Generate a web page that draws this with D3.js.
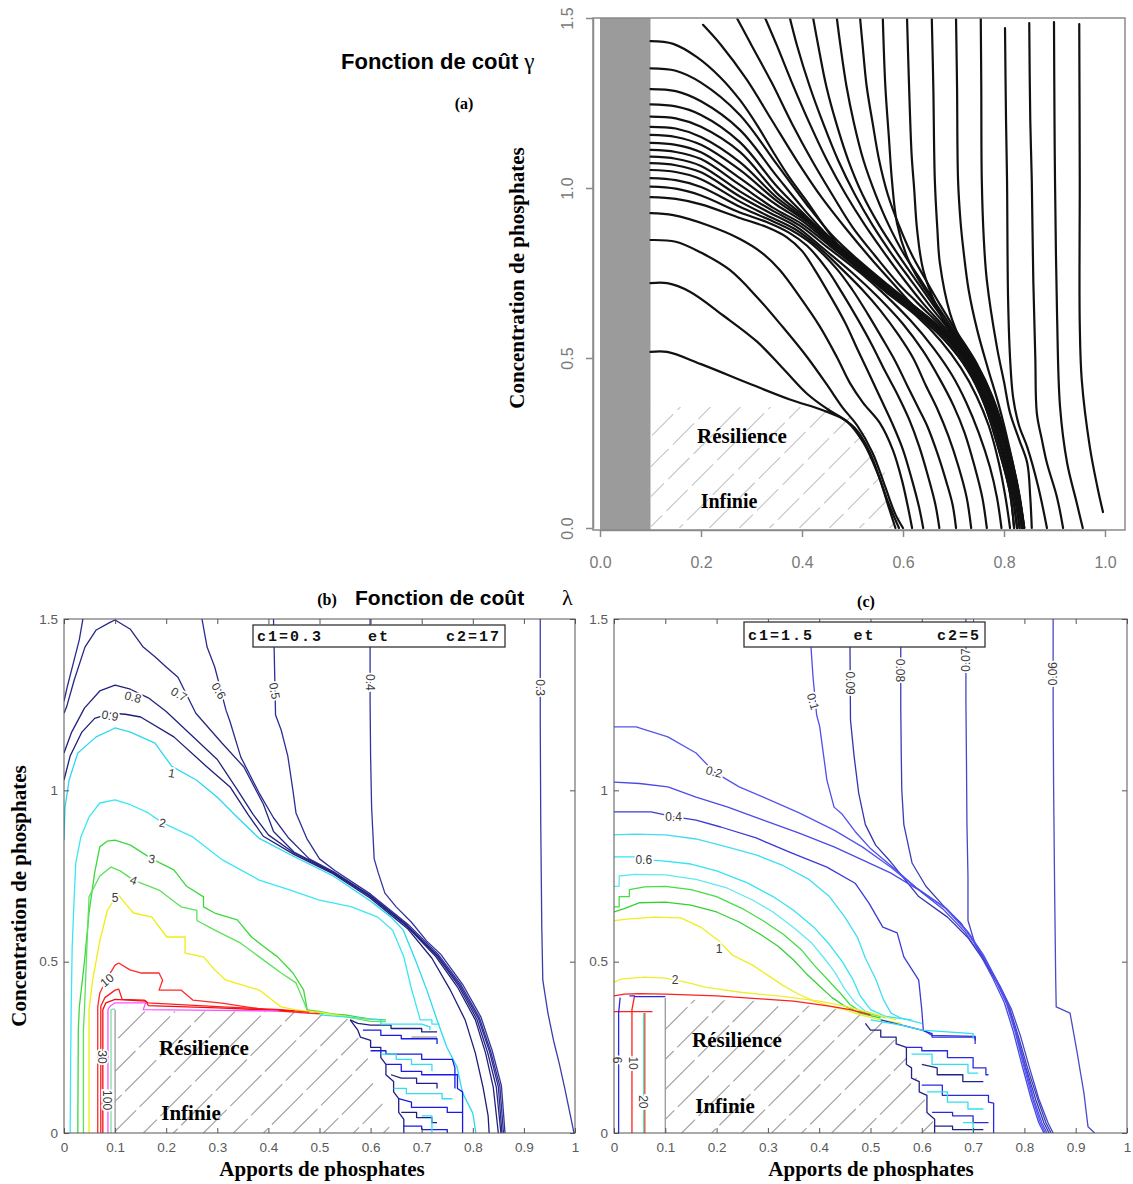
<!DOCTYPE html>
<html><head><meta charset="utf-8">
<script src="https://cdn.jsdelivr.net/npm/d3@7"></script>
<style>body{margin:0;background:#fff}svg{display:block}</style>
</head><body>
<svg id="c" width="1133" height="1184"></svg>
<script>
// ================= DATA =================
// Panel (a): trajectories (x = apports, y = concentration)
const tailA = [[0.62,0.655],[0.69,0.566],[0.736,0.477],[0.769,0.38],[0.8,0.245],[0.823,0.11],[0.836,0]];
const tailB = [[0.62,0.65],[0.688,0.561],[0.734,0.473],[0.766,0.376],[0.796,0.241],[0.819,0.11],[0.831,0]];
const tailC = [[0.62,0.645],[0.686,0.557],[0.731,0.469],[0.763,0.373],[0.793,0.238],[0.815,0.11],[0.826,0]];
const tailD = [[0.618,0.64],[0.683,0.552],[0.728,0.465],[0.76,0.369],[0.789,0.235],[0.811,0.11],[0.82,0]];

const aLeftCurves = [
 [[0.1,1.432],[0.145,1.424],[0.192,1.385],[0.238,1.326],[0.277,1.259],[0.311,1.185],[0.343,1.106],[0.376,1.029],[0.41,0.96],[0.45,0.875],[0.49,0.8],[0.55,0.728],...tailA],
 [[0.1,1.352],[0.15,1.345],[0.2,1.31],[0.277,1.215],[0.35,1.07],[0.41,0.95],[0.46,0.86],[0.51,0.79],[0.57,0.715],...tailA],
 [[0.1,1.291],[0.15,1.285],[0.2,1.255],[0.277,1.171],[0.35,1.035],[0.405,0.935],[0.455,0.855],[0.51,0.786],[0.57,0.71],...tailB],
 [[0.1,1.246],[0.15,1.24],[0.2,1.215],[0.277,1.135],[0.35,1.005],[0.405,0.922],[0.455,0.851],[0.51,0.782],[0.57,0.706],...tailB],
 [[0.1,1.21],[0.15,1.205],[0.2,1.18],[0.277,1.106],[0.35,0.985],[0.41,0.91],[0.455,0.848],[0.51,0.778],[0.57,0.702],...tailC],
 [[0.1,1.18],[0.15,1.175],[0.2,1.15],[0.277,1.076],[0.35,0.972],[0.41,0.905],[0.455,0.844],[0.51,0.774],[0.57,0.698],...tailC],
 [[0.1,1.156],[0.15,1.15],[0.2,1.127],[0.277,1.053],[0.35,0.962],[0.41,0.9],[0.455,0.84],[0.51,0.77],[0.57,0.694],...tailD],
 [[0.1,1.133],[0.15,1.127],[0.2,1.105],[0.277,1.029],[0.35,0.95],[0.405,0.898],[0.455,0.836],[0.51,0.766],[0.57,0.69],...tailD],
 [[0.1,1.112],[0.15,1.106],[0.2,1.085],[0.277,1.009],[0.345,0.94],[0.4,0.894],[0.455,0.83],[0.52,0.752],[0.57,0.69],[0.625,0.626],[0.675,0.55],[0.715,0.47],[0.745,0.39],[0.77,0.3],[0.79,0.19],[0.803,0.09],[0.812,0]],
 [[0.1,1.092],[0.15,1.086],[0.2,1.065],[0.277,0.99],[0.34,0.935],[0.395,0.89],[0.45,0.826],[0.52,0.745],[0.565,0.685],[0.615,0.61],[0.66,0.53],[0.697,0.45],[0.725,0.37],[0.75,0.28],[0.772,0.18],[0.786,0.09],[0.795,0]],
 [[0.1,1.073],[0.15,1.067],[0.2,1.046],[0.277,0.975],[0.335,0.928],[0.39,0.885],[0.44,0.825],[0.5,0.75],[0.55,0.68],[0.6,0.6],[0.64,0.52],[0.672,0.44],[0.7,0.36],[0.722,0.28],[0.742,0.18],[0.757,0.09],[0.766,0]],
 [[0.1,1.053],[0.15,1.047],[0.2,1.026],[0.277,0.96],[0.33,0.92],[0.385,0.88],[0.43,0.83],[0.48,0.76],[0.52,0.7],[0.555,0.64],[0.59,0.57],[0.62,0.5],[0.645,0.42],[0.668,0.35],[0.69,0.27],[0.71,0.18],[0.726,0.09],[0.735,0]],
 [[0.1,1.029],[0.15,1.023],[0.2,1.003],[0.277,0.945],[0.33,0.91],[0.38,0.875],[0.42,0.835],[0.47,0.76],[0.5,0.7],[0.53,0.63],[0.558,0.56],[0.585,0.49],[0.608,0.42],[0.628,0.36],[0.648,0.3],[0.668,0.22],[0.685,0.14],[0.698,0.07],[0.705,0]],
 [[0.1,1.004],[0.15,0.998],[0.2,0.978],[0.277,0.928],[0.33,0.9],[0.375,0.868],[0.41,0.83],[0.45,0.76],[0.48,0.69],[0.51,0.615],[0.538,0.54],[0.565,0.46],[0.59,0.39],[0.612,0.32],[0.632,0.24],[0.65,0.15],[0.664,0.07],[0.672,0]],
 [[0.1,0.973],[0.15,0.968],[0.2,0.952],[0.277,0.912],[0.33,0.885],[0.37,0.855],[0.4,0.815],[0.425,0.76],[0.455,0.685],[0.485,0.605],[0.51,0.525],[0.534,0.45],[0.556,0.38],[0.578,0.31],[0.6,0.23],[0.618,0.14],[0.632,0.06],[0.64,0]],
 [[0.1,0.926],[0.145,0.92],[0.212,0.891],[0.277,0.85],[0.32,0.81],[0.356,0.759],[0.396,0.679],[0.436,0.591],[0.469,0.503],[0.495,0.426],[0.521,0.368],[0.554,0.309],[0.58,0.229],[0.598,0.14],[0.61,0.06],[0.618,0]],
 [[0.1,0.847],[0.15,0.842],[0.2,0.81],[0.257,0.759],[0.311,0.679],[0.362,0.591],[0.41,0.503],[0.45,0.42],[0.48,0.355],[0.51,0.3],[0.54,0.22],[0.565,0.12],[0.585,0.04],[0.6,0]],
 [[0.1,0.72],[0.133,0.72],[0.178,0.695],[0.244,0.625],[0.311,0.548],[0.362,0.47],[0.41,0.395],[0.45,0.35],[0.49,0.312],[0.522,0.25],[0.55,0.16],[0.572,0.07],[0.592,0]],
 [[0.1,0.518],[0.133,0.518],[0.2,0.482],[0.3,0.422],[0.376,0.378],[0.44,0.347],[0.48,0.322],[0.51,0.285],[0.535,0.22],[0.555,0.14],[0.572,0.06],[0.585,0]]
];

const aTopCurves = [
 [[0.204,1.48],[0.24,1.42],[0.29,1.32],[0.34,1.2],[0.39,1.08],[0.44,0.97],[0.49,0.875],[0.535,0.795],[0.58,0.72],...tailA],
 [[0.271,1.5],[0.3,1.42],[0.34,1.31],[0.38,1.19],[0.42,1.08],[0.46,0.98],[0.5,0.885],[0.545,0.8],[0.59,0.72],[0.63,0.66],[0.692,0.568],[0.738,0.479],[0.771,0.382],[0.802,0.247],[0.825,0.11],[0.838,0]],
 [[0.327,1.5],[0.35,1.42],[0.38,1.31],[0.415,1.19],[0.45,1.08],[0.487,0.98],[0.525,0.89],[0.565,0.805],[0.605,0.725],[0.64,0.66],[0.694,0.57],[0.74,0.48],[0.772,0.383],[0.803,0.248],[0.826,0.11],[0.838,0]],
 [[0.376,1.5],[0.39,1.42],[0.415,1.3],[0.442,1.19],[0.472,1.08],[0.505,0.98],[0.54,0.89],[0.578,0.805],[0.615,0.73],[0.65,0.66],[0.697,0.572],[0.742,0.481],[0.774,0.384],[0.804,0.249],[0.827,0.11],[0.839,0]],
 [[0.422,1.5],[0.432,1.42],[0.448,1.3],[0.468,1.19],[0.492,1.08],[0.52,0.98],[0.553,0.89],[0.59,0.805],[0.625,0.73],[0.658,0.66],[0.7,0.574],[0.743,0.482],[0.775,0.385],[0.805,0.25],[0.828,0.11],[0.84,0]],
 [[0.469,1.5],[0.476,1.42],[0.488,1.3],[0.503,1.19],[0.522,1.08],[0.546,0.98],[0.572,0.89],[0.602,0.805],[0.635,0.73],[0.665,0.66],[0.703,0.576],[0.745,0.483],[0.776,0.386],[0.806,0.25],[0.828,0.11],[0.84,0]],
 [[0.515,1.5],[0.52,1.42],[0.528,1.3],[0.54,1.19],[0.553,1.08],[0.57,0.98],[0.592,0.89],[0.617,0.805],[0.645,0.73],[0.672,0.66],[0.706,0.578],[0.746,0.484],[0.777,0.387],[0.807,0.25],[0.829,0.11],[0.84,0]],
 [[0.56,1.5],[0.565,1.3],[0.572,1.15],[0.578,1.024],[0.588,0.897],[0.608,0.797],[0.632,0.728],[0.66,0.665],[0.69,0.59],[0.72,0.525],[0.748,0.46],[0.776,0.38],[0.806,0.245],[0.828,0.11],[0.839,0]],
 [[0.608,1.5],[0.612,1.3],[0.617,1.1],[0.622,1.0],[0.628,0.876],[0.64,0.759],[0.667,0.65],[0.699,0.562],[0.73,0.5],[0.755,0.44],[0.777,0.375],[0.805,0.243],[0.827,0.11],[0.838,0]],
 [[0.657,1.5],[0.66,1.3],[0.663,1.024],[0.668,0.88],[0.673,0.779],[0.693,0.632],[0.72,0.53],[0.745,0.455],[0.77,0.38],[0.8,0.245],[0.824,0.11],[0.836,0]],
 [[0.705,1.5],[0.707,1.3],[0.709,1.024],[0.714,0.9],[0.719,0.826],[0.73,0.7],[0.747,0.582],[0.768,0.47],[0.79,0.36],[0.81,0.24],[0.827,0.12],[0.838,0]],
 [[0.754,1.5],[0.755,1.3],[0.756,1.024],[0.76,0.85],[0.766,0.729],[0.786,0.532],[0.8,0.43],[0.812,0.338],[0.83,0.26],[0.846,0.191],[0.852,0.09],[0.855,0]],
 [[0.802,1.47],[0.804,1.2],[0.806,1.024],[0.808,0.68],[0.812,0.5],[0.818,0.385],[0.83,0.3],[0.846,0.238],[0.868,0.12],[0.885,0]],
 [[0.85,1.485],[0.852,1.2],[0.855,1.024],[0.858,0.729],[0.862,0.5],[0.865,0.338],[0.875,0.26],[0.885,0.191],[0.905,0.09],[0.917,0]],
 [[0.899,1.488],[0.9,1.2],[0.901,1.024],[0.905,0.632],[0.911,0.356],[0.925,0.191],[0.943,0.08],[0.956,0]],
 [[0.949,1.482],[0.95,1.024],[0.95,0.603],[0.954,0.435],[0.97,0.238],[0.985,0.12],[0.996,0.047]]
];
const aGreyBand = [0, 0.1];
const aHatch = [[0.1,0],[0.1,0.356],[0.46,0.356],[0.5,0.32],[0.535,0.26],[0.56,0.18],[0.58,0.09],[0.6,0]];
const aTicksX = [0,0.2,0.4,0.6,0.8,1.0];
const aTicksY = [0,0.5,1.0,1.5];

// Panels (b) and (c): contour levels
const bcTicksX = [0,0.1,0.2,0.3,0.4,0.5,0.6,0.7,0.8,0.9,1];
const bcTicksY = [0,0.5,1,1.5];

const bContours = [
 {level:"0.3", pts:[[0.932,1.5],[0.932,1.2],[0.933,0.9],[0.935,0.6],[0.937,0.446],[0.947,0.35],[0.958,0.27],[0.969,0.204],[0.98,0.13],[0.99,0.058],[0.998,0]]},
 {level:"0.4", pts:[[0.599,1.5],[0.599,1.26],[0.6,1.1],[0.602,0.95],[0.607,0.8],[0.615,0.759],[0.628,0.7],[0.65,0.66],[0.68,0.615],[0.71,0.56],[0.737,0.522],[0.78,0.434],[0.816,0.338],[0.838,0.24],[0.856,0.138],[0.863,0]]},
 {level:"0.5", pts:[[0.41,1.5],[0.414,1.22],[0.425,1.176],[0.438,1.1],[0.448,1.0],[0.454,0.934],[0.475,0.86],[0.5,0.8],[0.53,0.766],[0.6,0.697],[0.674,0.608],[0.733,0.52],[0.777,0.432],[0.813,0.336],[0.835,0.238],[0.853,0.136],[0.86,0]]},
 {level:"0.6", pts:[[0.037,1.5],[0.03,1.44],[0.018,1.37],[0.006,1.3],[0,1.26]]},
 {level:"0.6", pts:[[0.27,1.5],[0.28,1.418],[0.295,1.36],[0.317,1.234],[0.325,1.2],[0.346,1.097],[0.382,0.992],[0.41,0.92],[0.44,0.86],[0.48,0.8],[0.527,0.763],[0.599,0.694],[0.672,0.606],[0.731,0.518],[0.775,0.43],[0.811,0.334],[0.833,0.236],[0.85,0.135],[0.857,0]]},
 {level:"0.7", pts:[[0,1.225],[0.005,1.243],[0.02,1.322],[0.041,1.418],[0.063,1.468],[0.09,1.49],[0.1,1.497],[0.13,1.47],[0.155,1.418],[0.178,1.39],[0.2,1.36],[0.223,1.33],[0.258,1.225],[0.309,1.138],[0.352,1.068],[0.39,0.96],[0.41,0.88],[0.45,0.82],[0.527,0.761],[0.599,0.692],[0.672,0.604],[0.73,0.516],[0.773,0.428],[0.808,0.332],[0.829,0.235],[0.846,0.134],[0.855,0]]},
 {level:"0.8", pts:[[0,1.109],[0.015,1.17],[0.04,1.24],[0.07,1.29],[0.1,1.307],[0.13,1.295],[0.165,1.27],[0.2,1.23],[0.25,1.16],[0.3,1.09],[0.34,1.0],[0.37,0.93],[0.4,0.87],[0.45,0.817],[0.527,0.759],[0.599,0.69],[0.672,0.602],[0.728,0.514],[0.77,0.426],[0.805,0.33],[0.825,0.233],[0.84,0.134],[0.85,0]]},
 {level:"0.9", pts:[[0,1.03],[0.012,1.1],[0.035,1.17],[0.06,1.21],[0.092,1.225],[0.12,1.222],[0.15,1.214],[0.215,1.156],[0.28,1.068],[0.325,1.01],[0.36,0.93],[0.39,0.866],[0.45,0.813],[0.527,0.756],[0.599,0.686],[0.672,0.597],[0.72,0.51],[0.755,0.42],[0.785,0.33],[0.805,0.233],[0.82,0.134],[0.83,0.05],[0.832,0]]},
 {level:"1", pts:[[0,0.855],[0.002,0.95],[0.01,1.03],[0.027,1.109],[0.063,1.156],[0.1,1.182],[0.13,1.17],[0.178,1.138],[0.211,1.07],[0.259,1.03],[0.3,0.98],[0.34,0.92],[0.382,0.86],[0.45,0.807],[0.527,0.75],[0.599,0.678],[0.64,0.63],[0.664,0.592],[0.69,0.496],[0.71,0.417],[0.73,0.33],[0.749,0.251],[0.769,0.193],[0.78,0.117],[0.8,0.058],[0.806,0]]},
 {level:"2", pts:[[0.012,0],[0.013,0.2],[0.014,0.359],[0.016,0.543],[0.02,0.689],[0.023,0.788],[0.033,0.864],[0.049,0.922],[0.07,0.963],[0.1,0.972],[0.13,0.958],[0.165,0.934],[0.193,0.905],[0.252,0.864],[0.31,0.797],[0.382,0.738],[0.44,0.71],[0.498,0.68],[0.563,0.66],[0.614,0.63],[0.643,0.592],[0.665,0.514],[0.679,0.426],[0.69,0.368],[0.697,0.33],[0.72,0.33],[0.72,0.318],[0.735,0.318]]},
 {level:"3", pts:[[0.027,0],[0.028,0.3],[0.03,0.368],[0.04,0.5],[0.049,0.642],[0.06,0.76],[0.07,0.835],[0.085,0.852],[0.1,0.855],[0.13,0.84],[0.172,0.8],[0.215,0.768],[0.24,0.72],[0.273,0.689],[0.273,0.66],[0.295,0.642],[0.339,0.622],[0.367,0.572],[0.39,0.545],[0.418,0.514],[0.448,0.467],[0.469,0.417],[0.476,0.359],[0.5,0.35],[0.55,0.345],[0.6,0.332],[0.63,0.33]]},
 {level:"4", pts:[[0.038,0],[0.038,0.3],[0.04,0.359],[0.045,0.55],[0.049,0.689],[0.07,0.75],[0.092,0.776],[0.11,0.765],[0.136,0.738],[0.186,0.709],[0.229,0.66],[0.26,0.65],[0.26,0.62],[0.295,0.592],[0.346,0.554],[0.382,0.514],[0.425,0.467],[0.454,0.438],[0.476,0.359],[0.5,0.355],[0.55,0.34],[0.6,0.326],[0.63,0.325]]},
 {level:"5", pts:[[0.049,0],[0.049,0.359],[0.056,0.446],[0.07,0.56],[0.085,0.65],[0.1,0.685],[0.107,0.694],[0.12,0.67],[0.136,0.642],[0.172,0.63],[0.201,0.572],[0.237,0.572],[0.237,0.525],[0.273,0.514],[0.295,0.476],[0.317,0.446],[0.382,0.417],[0.425,0.368],[0.454,0.359],[0.5,0.352],[0.55,0.34],[0.6,0.33]]},
 {level:"10", pts:[[0.066,0],[0.066,0.368],[0.07,0.408],[0.082,0.446],[0.1,0.49],[0.107,0.496],[0.129,0.476],[0.15,0.467],[0.186,0.467],[0.193,0.446],[0.186,0.417],[0.229,0.417],[0.252,0.388],[0.309,0.379],[0.397,0.359],[0.476,0.35],[0.5,0.348]]},
 {level:"20", pts:[[0.072,0],[0.072,0.37],[0.08,0.395],[0.1,0.417],[0.107,0.42],[0.114,0.39],[0.157,0.388],[0.164,0.38],[0.31,0.368],[0.425,0.36],[0.48,0.352]]},
 {level:"30", pts:[[0.076,0],[0.076,0.36],[0.082,0.38],[0.1,0.39],[0.16,0.385],[0.165,0.372],[0.3,0.365],[0.45,0.356]]},
 {level:"100", pts:[[0.086,0],[0.086,0.36],[0.09,0.37],[0.1,0.38],[0.16,0.38],[0.155,0.36],[0.3,0.358],[0.42,0.356]]},
 {level:"lightgreen", pts:[[0.092,0],[0.092,0.36],[0.1,0.362]]},
 {level:"grey", pts:[[0.1,0],[0.1,0.36]]},
 {level:"grey", pts:[[0.68,0.28],[0.73,0.28]]},
 {level:"navy", pts:[[0.56,0.33],[0.575,0.32],[0.6,0.315],[0.64,0.315],[0.64,0.305],[0.7,0.305],[0.7,0.295],[0.73,0.295]]},
 {level:"cyan", pts:[[0.5,0.345],[0.62,0.33],[0.62,0.318],[0.7,0.318],[0.716,0.31],[0.716,0.3]]},
 {level:"blue", pts:[[0.585,0.3],[0.62,0.3],[0.62,0.285],[0.66,0.285],[0.66,0.275],[0.73,0.275],[0.73,0.26]]},
 {level:"navy", pts:[[0.56,0.33],[0.575,0.3],[0.58,0.28],[0.6,0.27],[0.6,0.25],[0.62,0.25],[0.62,0.22],[0.63,0.2],[0.63,0.17],[0.645,0.15],[0.645,0.12],[0.655,0.1],[0.655,0.06],[0.665,0.04],[0.665,0]]},
 {level:"blue", pts:[[0.6,0.24],[0.63,0.24],[0.63,0.23],[0.7,0.23],[0.7,0.215],[0.76,0.215],[0.765,0.19],[0.765,0.13]]},
 {level:"cyan", pts:[[0.62,0.23],[0.65,0.23],[0.65,0.215],[0.68,0.215],[0.68,0.2],[0.72,0.2],[0.72,0.18]]},
 {level:"blue", pts:[[0.63,0.2],[0.66,0.2],[0.66,0.18],[0.7,0.18],[0.7,0.17],[0.77,0.17],[0.77,0.13],[0.78,0.12],[0.78,0]]},
 {level:"navy", pts:[[0.64,0.17],[0.66,0.16],[0.69,0.16],[0.69,0.145],[0.73,0.145],[0.73,0.13]]},
 {level:"cyan", pts:[[0.645,0.13],[0.67,0.13],[0.67,0.115],[0.74,0.115],[0.74,0.1],[0.76,0.1]]},
 {level:"blue", pts:[[0.655,0.1],[0.68,0.09],[0.68,0.075],[0.75,0.075],[0.75,0.06],[0.78,0.06]]},
 {level:"navy", pts:[[0.66,0.06],[0.69,0.06],[0.69,0.045],[0.72,0.045],[0.72,0.03],[0.73,0.03]]},
 {level:"blue", pts:[[0.665,0.02],[0.7,0.02],[0.7,0.01],[0.75,0.01],[0.75,0]]},
 {level:"cyan", pts:[[0.7,0.05],[0.72,0.05],[0.72,0]]}
];
const bLabels = [
 {t:"0.3",x:0.932,y:1.30,r:90},{t:"0.4",x:0.599,y:1.315,r:90},{t:"0.5",x:0.412,y:1.29,r:80},
 {t:"0.6",x:0.303,y:1.29,r:60},{t:"0.7",x:0.225,y:1.28,r:30},{t:"0.8",x:0.135,y:1.272,r:15},
 {t:"0.9",x:0.09,y:1.218,r:10},{t:"1",x:0.211,y:1.05,r:10},{t:"2",x:0.193,y:0.905,r:10},
 {t:"3",x:0.172,y:0.80,r:10},{t:"4",x:0.136,y:0.738,r:20},{t:"5",x:0.1,y:0.686,r:0},
 {t:"10",x:0.084,y:0.446,r:-40},{t:"30",x:0.074,y:0.222,r:90},{t:"100",x:0.084,y:0.096,r:90}
];
const bHatch = [[0.1,0],[0.1,0.355],[0.5,0.355],[0.56,0.33],[0.6,0.2],[0.64,0]];
const bParams = ["c1=0.3","et","c2=17"];

const cContours = [
 {level:"0.06", pts:[[0.856,1.5],[0.856,1.24],[0.857,1.0],[0.859,0.7],[0.861,0.45],[0.862,0.368],[0.889,0.35],[0.895,0.3],[0.903,0.233],[0.91,0.17],[0.916,0.117],[0.924,0.018],[0.937,0]]},
 {level:"0.07", pts:[[0.686,1.5],[0.686,1.258],[0.687,1.1],[0.688,0.9],[0.69,0.75],[0.69,0.62],[0.704,0.55],[0.728,0.49],[0.752,0.43],[0.775,0.36],[0.793,0.28],[0.81,0.19],[0.828,0.1],[0.846,0.03],[0.856,0]]},
 {level:"0.08", pts:[[0.559,1.42],[0.559,1.24],[0.56,1.1],[0.561,1.0],[0.565,0.9],[0.581,0.788],[0.608,0.72],[0.641,0.665],[0.676,0.613],[0.705,0.55],[0.728,0.488],[0.751,0.428],[0.772,0.36],[0.789,0.278],[0.807,0.185],[0.826,0.098],[0.842,0.03],[0.852,0]]},
 {level:"0.09", pts:[[0.46,1.42],[0.461,1.205],[0.468,1.1],[0.477,0.992],[0.49,0.9],[0.51,0.84],[0.54,0.79],[0.594,0.69],[0.65,0.63],[0.69,0.57],[0.72,0.505],[0.746,0.44],[0.768,0.37],[0.785,0.285],[0.803,0.19],[0.822,0.098],[0.838,0.03],[0.848,0]]},
 {level:"0.1", pts:[[0.384,1.418],[0.388,1.33],[0.395,1.22],[0.401,1.186],[0.415,1.03],[0.429,0.951],[0.445,0.93],[0.47,0.88],[0.5,0.83],[0.54,0.78],[0.59,0.715],[0.648,0.655],[0.69,0.587],[0.72,0.52],[0.744,0.452],[0.766,0.382],[0.783,0.298],[0.8,0.2],[0.818,0.1],[0.834,0.03],[0.844,0]]},
 {level:"0.2", pts:[[0,1.185],[0.043,1.185],[0.105,1.156],[0.16,1.109],[0.195,1.054],[0.244,1.01],[0.291,0.98],[0.361,0.934],[0.429,0.884],[0.484,0.835],[0.539,0.776],[0.587,0.718],[0.645,0.657],[0.688,0.588],[0.718,0.521],[0.742,0.453],[0.764,0.383],[0.781,0.3],[0.798,0.2],[0.816,0.1],[0.831,0.03],[0.841,0]]},
 {level:"0.3", pts:[[0,1.024],[0.05,1.02],[0.105,1.01],[0.16,0.98],[0.222,0.951],[0.291,0.913],[0.361,0.875],[0.429,0.835],[0.484,0.797],[0.539,0.759],[0.594,0.709],[0.641,0.654],[0.685,0.585],[0.715,0.518],[0.739,0.45],[0.761,0.38],[0.778,0.298],[0.795,0.2],[0.813,0.1],[0.828,0.03],[0.838,0]]},
 {level:"0.4", pts:[[0,0.937],[0.072,0.937],[0.116,0.923],[0.16,0.913],[0.208,0.893],[0.277,0.861],[0.347,0.817],[0.415,0.776],[0.47,0.729],[0.497,0.671],[0.524,0.601],[0.552,0.584],[0.565,0.514],[0.594,0.446],[0.6,0.359],[0.603,0.3],[0.62,0.285],[0.704,0.282],[0.704,0.26]]},
 {level:"0.5", pts:[[0,0.87],[0.04,0.872],[0.1,0.87],[0.16,0.858],[0.22,0.835],[0.28,0.81],[0.33,0.78],[0.38,0.74],[0.42,0.69],[0.45,0.63],[0.475,0.57],[0.49,0.51],[0.51,0.45],[0.525,0.39],[0.54,0.35],[0.56,0.335],[0.6,0.32]]},
 {level:"0.6", pts:[[0,0.806],[0.04,0.806],[0.058,0.797],[0.09,0.795],[0.15,0.785],[0.2,0.765],[0.26,0.73],[0.31,0.69],[0.35,0.65],[0.39,0.6],[0.42,0.55],[0.445,0.5],[0.465,0.45],[0.48,0.4],[0.5,0.36],[0.53,0.34],[0.58,0.33]]},
 {level:"0.7", pts:[[0,0.72],[0.01,0.72],[0.01,0.75],[0.04,0.755],[0.1,0.753],[0.16,0.74],[0.22,0.715],[0.27,0.68],[0.31,0.645],[0.35,0.6],[0.385,0.555],[0.41,0.51],[0.43,0.47],[0.45,0.42],[0.47,0.38],[0.49,0.355],[0.53,0.335]]},
 {level:"0.8", pts:[[0,0.66],[0.01,0.66],[0.01,0.69],[0.03,0.69],[0.03,0.71],[0.06,0.718],[0.1,0.72],[0.15,0.71],[0.2,0.69],[0.25,0.655],[0.29,0.62],[0.33,0.58],[0.365,0.535],[0.39,0.49],[0.415,0.45],[0.44,0.41],[0.46,0.375],[0.48,0.355],[0.52,0.34]]},
 {level:"0.9", pts:[[0,0.645],[0.02,0.655],[0.05,0.672],[0.1,0.674],[0.15,0.665],[0.2,0.645],[0.245,0.615],[0.285,0.58],[0.32,0.545],[0.35,0.505],[0.375,0.465],[0.4,0.43],[0.425,0.395],[0.45,0.37],[0.48,0.35],[0.52,0.335]]},
 {level:"1", pts:[[0,0.62],[0.03,0.625],[0.08,0.63],[0.13,0.628],[0.17,0.6],[0.205,0.56],[0.23,0.52],[0.27,0.49],[0.3,0.46],[0.33,0.43],[0.36,0.405],[0.39,0.385],[0.42,0.37],[0.45,0.36],[0.48,0.345],[0.52,0.33],[0.56,0.32]]},
 {level:"2", pts:[[0,0.44],[0.015,0.45],[0.06,0.455],[0.1,0.452],[0.14,0.44],[0.18,0.425],[0.25,0.41],[0.32,0.4],[0.4,0.385],[0.45,0.37],[0.5,0.35],[0.55,0.33]]},
 {level:"red", pts:[[0,0.4],[0.02,0.405],[0.05,0.407],[0.1,0.405],[0.2,0.4],[0.3,0.39],[0.35,0.385],[0.42,0.37],[0.46,0.36],[0.5,0.345]]},
 {level:"red", pts:[[0.035,0],[0.035,0.36],[0.04,0.4]]},
 {level:"red", pts:[[0.06,0],[0.06,0.35]]},
 {level:"red", pts:[[0,0.354],[0.075,0.354]]},
 {level:"greencyan", pts:[[0.058,0],[0.058,0.35]]},
 {level:"blue", pts:[[0.009,0],[0.009,0.35],[0.012,0.395]]},
 {level:"blue", pts:[[0.03,0.4],[0.04,0.4],[0.04,0.398],[0.1,0.398]]},
 {level:"grey", pts:[[0.1,0],[0.1,0.395]]},
 {level:"blue", pts:[[0.52,0.33],[0.6,0.3],[0.62,0.29],[0.62,0.28],[0.704,0.28],[0.704,0.27]]},
 {level:"cyan", pts:[[0.5,0.33],[0.56,0.315],[0.6,0.3],[0.65,0.295],[0.7,0.29],[0.7,0.275]]},
 {level:"navy", pts:[[0.49,0.32],[0.5,0.3],[0.52,0.3],[0.52,0.28],[0.55,0.28],[0.55,0.26],[0.57,0.25],[0.57,0.2],[0.58,0.19],[0.58,0.16],[0.595,0.15],[0.595,0.12],[0.61,0.11],[0.61,0.06],[0.625,0.04],[0.625,0]]},
 {level:"blue", pts:[[0.57,0.25],[0.6,0.25],[0.6,0.24],[0.65,0.24],[0.65,0.22],[0.7,0.22],[0.7,0.19],[0.725,0.19],[0.725,0.17],[0.73,0.17]]},
 {level:"cyan", pts:[[0.58,0.23],[0.62,0.23],[0.62,0.2],[0.69,0.2],[0.69,0.175],[0.71,0.175]]},
 {level:"navy", pts:[[0.6,0.2],[0.63,0.19],[0.63,0.17],[0.68,0.17],[0.68,0.15],[0.72,0.15]]},
 {level:"blue", pts:[[0.6,0.14],[0.64,0.14],[0.64,0.11],[0.73,0.11],[0.73,0.09],[0.74,0.087],[0.74,0]]},
 {level:"cyan", pts:[[0.61,0.12],[0.65,0.12],[0.65,0.09],[0.69,0.09],[0.69,0.07],[0.72,0.07]]},
 {level:"blue", pts:[[0.62,0.06],[0.66,0.06],[0.66,0.05],[0.7,0.05],[0.7,0.03],[0.73,0.03]]},
 {level:"navy", pts:[[0.625,0.02],[0.66,0.02],[0.66,0.01],[0.72,0.01]]},
 {level:"cyan", pts:[[0.68,0.03],[0.7,0.03],[0.7,0]]}
];
const cLabels = [
 {t:"0.1",x:0.388,y:1.259,r:75},{t:"0.09",x:0.46,y:1.313,r:90},{t:"0.08",x:0.557,y:1.35,r:90},
 {t:"0.07",x:0.686,y:1.38,r:-90},{t:"0.06",x:0.856,y:1.34,r:-90},{t:"0.2",x:0.195,y:1.054,r:15},
 {t:"0.4",x:0.116,y:0.923,r:0},{t:"0.6",x:0.058,y:0.797,r:0},{t:"1",x:0.205,y:0.539,r:0},
 {t:"2",x:0.119,y:0.446,r:0},{t:"6",x:0.006,y:0.213,r:90},{t:"10",x:0.037,y:0.204,r:90},
 {t:"20",x:0.056,y:0.091,r:90}
];
const cHatch = [[0.1,0],[0.1,0.39],[0.3,0.385],[0.45,0.36],[0.52,0.33],[0.58,0.2],[0.63,0]];
const cParams = ["c1=1.5","et","c2=5"];

// ================= STYLES / DRAWING =================
const colorB = d3.scaleOrdinal(
 ["0.3","0.4","0.5","0.6","0.7","0.8","0.9","1","2","3","4","5","10","20","30","100","lightgreen","grey","navy","blue","cyan"],
 ["#3d3da8","#34349e","#2e2e96","#2a2a8e","#262686","#22227e","#1e1e78","#2cd8f0","#3ae6f4","#3cd83c","#5ae25a","#eeee10","#ff2a2a","#ff1c1c","#f01010","#ff50ff","#7de0a0","#9a9a9a","#1e1e86","#1a1ae6","#30e0f0"]);
const colorC = d3.scaleOrdinal(
 ["0.06","0.07","0.08","0.09","0.1","0.2","0.3","0.4","0.5","0.6","0.7","0.8","0.9","1","2","red","blue","navy","cyan","grey","greencyan"],
 ["#4b4bc8","#4646cc","#3c3cb4","#3636ac","#4d4df2","#5454ee","#4a4ae6","#3a3ad6","#40dcf4","#34e4f4","#60e8f0","#44dd44","#36d036","#eeee20","#eeee30","#ff2020","#2a2ae0","#22228a","#30e0f0","#9a9a9a","#50e0a0"]);

const svg = d3.select("#c");
const SANS = "'Liberation Sans', Arial, sans-serif";
const SERIF = "'Liberation Serif', 'Times New Roman', serif";
const MONO = "'Liberation Mono', 'Courier New', monospace";

function hatch(parent, id, polyPx, spacing, color, width, dash) {
  parent.append("clipPath").attr("id", id).append("polygon")
    .attr("points", polyPx.map(p => p.join(",")).join(" "));
  const xs = polyPx.map(p => p[0]), ys = polyPx.map(p => p[1]);
  const x0 = d3.min(xs), x1 = d3.max(xs), y0 = d3.min(ys), y1 = d3.max(ys);
  const h = y1 - y0;
  const g = parent.append("g").attr("clip-path", `url(#${id})`);
  const starts = d3.range(x0 - h, x1 + spacing, spacing);
  g.selectAll("line").data(starts).join("line")
    .attr("x1", d => d).attr("y1", y1).attr("x2", d => d + h).attr("y2", y0)
    .attr("stroke", color).attr("stroke-width", width)
    .attr("stroke-dasharray", dash).attr("stroke-dashoffset", (d, i) => (i * 13) % 40);
}

// ---------- Panel (a) ----------
const xA = d3.scaleLinear([0, 1], [600, 1105]);
const yA = d3.scaleLinear([0, 1.5], [528, 18]);
const boxA = {l: 593, r: 1125, t: 18, b: 530};
const gA = svg.append("g");
gA.append("clipPath").attr("id", "clipA").append("rect")
  .attr("x", boxA.l).attr("y", boxA.t).attr("width", boxA.r - boxA.l).attr("height", boxA.b - boxA.t);
gA.append("rect").attr("x", xA(aGreyBand[0])).attr("y", yA(1.5))
  .attr("width", xA(aGreyBand[1]) - xA(aGreyBand[0])).attr("height", boxA.b - yA(1.5))
  .attr("fill", "#9b9b9b");
hatch(gA, "hA", aHatch.map(p => [xA(p[0]), yA(p[1])]), 30, "#c4c4c4", 1.1, "30 6");
gA.append("text").attr("x", 742).attr("y", 443).attr("text-anchor", "middle")
  .attr("font-family", SERIF).attr("font-weight", "bold").attr("font-size", 21).text("Résilience");
gA.append("text").attr("x", 729).attr("y", 508).attr("text-anchor", "middle")
  .attr("font-family", SERIF).attr("font-weight", "bold").attr("font-size", 20).text("Infinie");
const lineA = d3.line().x(d => xA(d[0])).y(d => yA(d[1])).curve(d3.curveCatmullRom.alpha(0.5));
gA.append("g").attr("clip-path", "url(#clipA)")
  .selectAll("path").data(aLeftCurves.concat(aTopCurves)).join("path")
  .attr("d", lineA).attr("fill", "none").attr("stroke", "#111").attr("stroke-width", 2.2)
  .attr("stroke-linejoin", "round").attr("stroke-linecap", "round");
gA.append("rect").attr("x", boxA.l).attr("y", boxA.t).attr("width", boxA.r - boxA.l)
  .attr("height", boxA.b - boxA.t).attr("fill", "none").attr("stroke", "#8a8a8a").attr("stroke-width", 1.5);
const axAL = gA.append("g").attr("transform", `translate(${boxA.l},0)`)
  .call(d3.axisLeft(yA).tickValues(aTicksY).tickSize(7).tickSizeOuter(0).tickFormat(d3.format(".1f")));
axAL.selectAll("text").attr("transform", "rotate(-90)").attr("x", 0).attr("y", -20).attr("dy", 0)
  .attr("text-anchor", "middle");
const axAB = gA.append("g").attr("transform", `translate(0,${boxA.b})`)
  .call(d3.axisBottom(xA).tickValues(aTicksX).tickSize(7).tickSizeOuter(0).tickPadding(20).tickFormat(d3.format(".1f")));
[axAL, axAB].forEach(a => {
  a.select(".domain").attr("stroke", "#8a8a8a").attr("stroke-width", 1.5);
  a.selectAll("line").attr("stroke", "#8a8a8a").attr("stroke-width", 1.5);
  a.selectAll("text").attr("font-family", SANS).attr("font-size", 16).attr("fill", "#7a7a7a");
});
gA.append("text").attr("transform", "translate(524,278) rotate(-90)").attr("text-anchor", "middle")
  .attr("font-family", SERIF).attr("font-weight", "bold").attr("font-size", 21)
  .text("Concentration de phosphates");
const tA = gA.append("text").attr("x", 341).attr("y", 69).attr("font-family", SANS)
  .attr("font-weight", "bold").attr("font-size", 22);
tA.append("tspan").text("Fonction de coût ");
tA.append("tspan").attr("font-family", SERIF).attr("font-weight", "normal").attr("font-size", 23).text("γ");
gA.append("text").attr("x", 464).attr("y", 109).attr("text-anchor", "middle")
  .attr("font-family", SERIF).attr("font-weight", "bold").attr("font-size", 16).text("(a)");

// ---------- Panels (b) and (c) ----------
function contourPanel(id, x, y, box, contours, color, labels, hatchPoly, params, legendBox) {
  const g = svg.append("g");
  g.append("clipPath").attr("id", "clip" + id).append("rect")
    .attr("x", box.l).attr("y", box.t).attr("width", box.r - box.l).attr("height", box.b - box.t);
  hatch(g, "h" + id, hatchPoly.map(p => [x(p[0]), y(p[1])]), 30, "#a4a4a4", 1.2, "44 5");
  const line = d3.line().x(d => x(d[0])).y(d => y(d[1]));
  g.append("g").attr("clip-path", `url(#clip${id})`)
    .selectAll("path").data(contours).join("path")
    .attr("d", d => line(d.pts)).attr("fill", "none").attr("stroke", d => color(d.level))
    .attr("stroke-width", 1.3).attr("stroke-linejoin", "round");
  g.selectAll("text.lab").data(labels).join("text").attr("class", "lab")
    .attr("transform", d => `translate(${x(d.x)},${y(d.y)}) rotate(${d.r})`)
    .attr("text-anchor", "middle").attr("dy", "0.35em")
    .attr("font-family", SANS).attr("font-size", 12).attr("fill", "#3a3a3a")
    .attr("stroke", "#fff").attr("stroke-width", 3.5).attr("paint-order", "stroke")
    .text(d => d.t);
  const fmt = d3.format("~g");
  const ab = g.append("g").attr("transform", `translate(0,${box.b})`)
    .call(d3.axisBottom(x).tickValues(bcTicksX).tickSize(-5).tickSizeOuter(0).tickPadding(9).tickFormat(fmt));
  const at = g.append("g").attr("transform", `translate(0,${box.t})`)
    .call(d3.axisTop(x).tickValues(bcTicksX).tickSize(-5).tickSizeOuter(0).tickFormat(""));
  const al = g.append("g").attr("transform", `translate(${box.l},0)`)
    .call(d3.axisLeft(y).tickValues(bcTicksY).tickSize(-5).tickSizeOuter(0).tickPadding(6).tickFormat(fmt));
  const ar = g.append("g").attr("transform", `translate(${box.r},0)`)
    .call(d3.axisRight(y).tickValues(bcTicksY).tickSize(-5).tickSizeOuter(0).tickFormat(""));
  [ab, at, al, ar].forEach(a => {
    a.select(".domain").remove();
    a.selectAll("line").attr("stroke", "#555").attr("stroke-width", 1);
    a.selectAll("text").attr("font-family", SANS).attr("font-size", 13.5).attr("fill", "#5a5a5a");
  });
  g.append("rect").attr("x", box.l).attr("y", box.t).attr("width", box.r - box.l)
    .attr("height", box.b - box.t).attr("fill", "none").attr("stroke", "#555").attr("stroke-width", 1);
  const lb = g.append("g");
  lb.append("rect").attr("x", legendBox.x).attr("y", legendBox.y).attr("width", legendBox.w)
    .attr("height", legendBox.h).attr("fill", "#fff").attr("stroke", "#333").attr("stroke-width", 1.3);
  const ty = legendBox.y + legendBox.h / 2;
  lb.selectAll("text").data(params).join("text")
    .attr("x", (d, i) => [legendBox.x + 4, legendBox.x + legendBox.w / 2, legendBox.x + legendBox.w - 4][i])
    .attr("y", ty).attr("dy", "0.36em")
    .attr("text-anchor", (d, i) => ["start", "middle", "end"][i])
    .attr("font-family", MONO).attr("font-weight", "bold").attr("font-size", 15)
    .attr("letter-spacing", 2).attr("fill", "#111").text(d => d);
  return g;
}

const xB = d3.scaleLinear([0, 1], [64, 575]);
const yB = d3.scaleLinear([0, 1.5], [1133, 619]);
const gB = contourPanel("B", xB, yB, {l: 64, r: 575, t: 619, b: 1133}, bContours, colorB, bLabels, bHatch, bParams,
  {x: 253, y: 625, w: 252, h: 22});
const xC = d3.scaleLinear([0, 1], [614, 1127]);
const yC = d3.scaleLinear([0, 1.5], [1133, 619]);
const gC = contourPanel("C", xC, yC, {l: 614, r: 1127, t: 619, b: 1133}, cContours, colorC, cLabels, cHatch, cParams,
  {x: 744, y: 622, w: 241, h: 25});

[[gB, 204, 1055, 1120, 191], [gC, 737, 1047, 1113, 725]].forEach(([g, xr, yr, yi, xi]) => {
  g.append("text").attr("x", xr).attr("y", yr).attr("text-anchor", "middle").attr("font-family", SERIF)
    .attr("font-weight", "bold").attr("font-size", 21).text("Résilience");
  g.append("text").attr("x", xi).attr("y", yi).attr("text-anchor", "middle").attr("font-family", SERIF)
    .attr("font-weight", "bold").attr("font-size", 21).text("Infinie");
});
[[322, 1176], [871, 1176]].forEach(([x, y]) => {
  svg.append("text").attr("x", x).attr("y", y).attr("text-anchor", "middle").attr("font-family", SERIF)
    .attr("font-weight", "bold").attr("font-size", 21).text("Apports de phosphates");
});
svg.append("text").attr("transform", "translate(26,896) rotate(-90)").attr("text-anchor", "middle")
  .attr("font-family", SERIF).attr("font-weight", "bold").attr("font-size", 21).text("Concentration de phosphates");
svg.append("text").attr("x", 327).attr("y", 605).attr("text-anchor", "middle").attr("font-family", SERIF)
  .attr("font-weight", "bold").attr("font-size", 16).text("(b)");
const tB = svg.append("text").attr("x", 355).attr("y", 605).attr("font-family", SANS)
  .attr("font-weight", "bold").attr("font-size", 21);
tB.append("tspan").text("Fonction de coût");
tB.append("tspan").attr("x", 562).attr("font-family", SERIF).attr("font-weight", "normal").attr("font-size", 22).text("λ");
svg.append("text").attr("x", 866).attr("y", 607).attr("text-anchor", "middle").attr("font-family", SERIF)
  .attr("font-weight", "bold").attr("font-size", 16).text("(c)");
</script>
</body></html>
